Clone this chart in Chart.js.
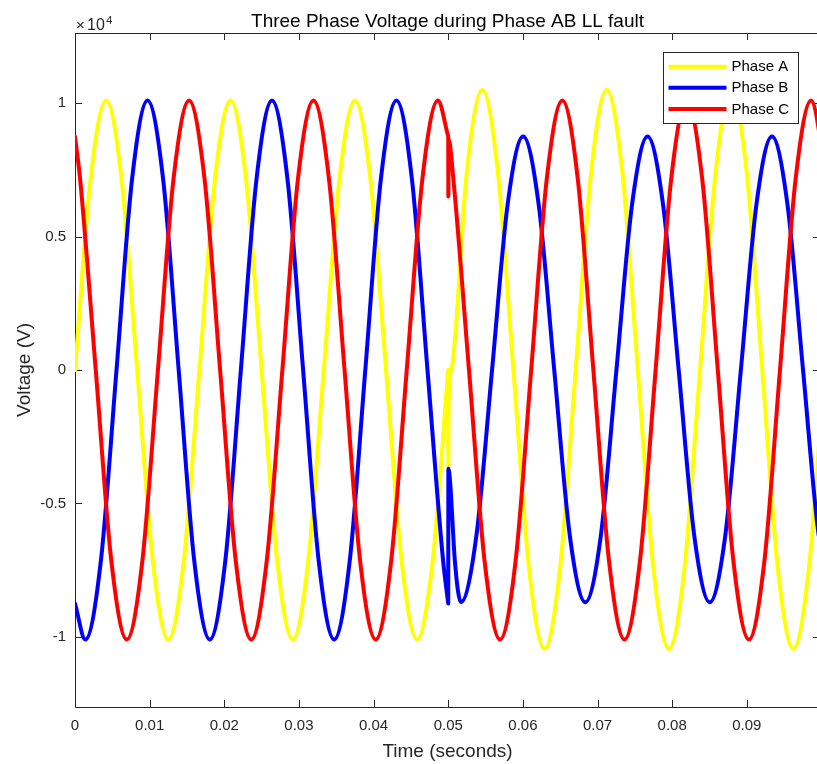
<!DOCTYPE html>
<html>
<head>
<meta charset="utf-8">
<title>Three Phase Voltage during Phase AB LL fault</title>
<script src="https://cdn.jsdelivr.net/npm/chart.js"></script>
<style>
  html, body { margin: 0; padding: 0; background: #ffffff; }
  canvas { display: block; }
</style>
</head>
<body>
<canvas id="voltage-chart" width="817" height="764"></canvas>
<script>
// ==========================================================================
// 1. DATA (volts vs seconds)
// ==========================================================================

const FAULT_TIME = 0.05;

// Phase A: before the fault / from the fault on (spike at t = 0.05)
const timeAPre = [0, 0.00208, 0.00417, 0.00625, 0.00833, 0.01042, 0.0125, 0.01458, 0.01667, 0.01875,
  0.02083, 0.02292, 0.025, 0.02708, 0.02917, 0.03125, 0.03333, 0.03542, 0.0375, 0.03958,
  0.04167, 0.04375, 0.04583, 0.04792, 0.05];
const voltAPre = [0, 7140, 10100, 7140, 0, -7140, -10100, -7140, 0, 7140,
  10100, 7140, 0, -7140, -10100, -7140, 0, 7140, 10100, 7140,
  0, -7140, -10100, -7140, 0];
const timeAPost = [0.05, 0.05002, 0.05004, 0.0504, 0.05248, 0.05457, 0.05665, 0.05873, 0.06082, 0.0629,
  0.06498, 0.06707, 0.06915, 0.07123, 0.07332, 0.0754, 0.07748, 0.07957, 0.08165, 0.08373,
  0.08582, 0.0879, 0.08998, 0.09207, 0.09415, 0.09623, 0.09832, 0.1004];
const voltAPost = [0, -3700, -1420, 0, 7420, 10500, 7420, 0, -7420, -10450,
  -7420, 0, 7420, 10500, 7420, 0, -7420, -10450, -7420, 0,
  7420, 10500, 7420, 0, -7420, -10450, -7420, 0];

// Phase B
const timeBPre = [0, 0.00139, 0.00347, 0.00556, 0.00764, 0.00972, 0.01181, 0.01389, 0.01597, 0.01806,
  0.02014, 0.02222, 0.02431, 0.02639, 0.02847, 0.03056, 0.03264, 0.03472, 0.03681, 0.03889,
  0.04097, 0.04306, 0.04514, 0.04722, 0.04931, 0.05];
const voltBPre = [-8750, -10100, -7140, 0, 7140, 10100, 7140, 0, -7140, -10100,
  -7140, 0, 7140, 10100, 7140, 0, -7140, -10100, -7140, 0,
  7140, 10100, 7140, 0, -7140, -8750];
const timeBPost = [0.05, 0.05002, 0.05025, 0.0509, 0.0517, 0.05378, 0.05587, 0.05795, 0.06003, 0.06212,
  0.0642, 0.06628, 0.06837, 0.07045, 0.07253, 0.07462, 0.0767, 0.07878, 0.08087, 0.08295,
  0.08503, 0.08712, 0.0892, 0.09128, 0.09337, 0.09545, 0.09753, 0.09962, 0.1017];
const voltBPost = [-8750, -3700, -4200, -7200, -8700, -6190, 0, 6190, 8750, 6190,
  0, -6190, -8700, -6190, 0, 6190, 8750, 6190, 0, -6190,
  -8700, -6190, 0, 6190, 8750, 6190, 0, -6190, -8700];

// Phase C
const timeCPre = [0, 0.00069, 0.00278, 0.00486, 0.00694, 0.00903, 0.01111, 0.01319, 0.01528, 0.01736,
  0.01944, 0.02153, 0.02361, 0.02569, 0.02778, 0.02986, 0.03194, 0.03403, 0.03611, 0.03819,
  0.04028, 0.04236, 0.04444, 0.04653, 0.04861, 0.05];
const voltCPre = [8750, 7140, 0, -7140, -10100, -7140, 0, 7140, 10100, 7140,
  0, -7140, -10100, -7140, 0, 7140, 10100, 7140, 0, -7140,
  -10100, -7140, 0, 7140, 10100, 8750];
const timeCPost = [0.05, 0.05002, 0.05004, 0.05069, 0.05278, 0.05486, 0.05694, 0.05903, 0.06111, 0.06319,
  0.06528, 0.06736, 0.06944, 0.07153, 0.07361, 0.07569, 0.07778, 0.07986, 0.08194, 0.08403,
  0.08611, 0.08819, 0.09028, 0.09236, 0.09444, 0.09653, 0.09861, 0.10069];
const voltCPost = [8750, 6500, 8670, 7140, 0, -7140, -10100, -7140, 0, 7140,
  10100, 7140, 0, -7140, -10100, -7140, 0, 7140, 10100, 7140,
  0, -7140, -10100, -7140, 0, 7140, 10100, 7140];

const seriesLabels = ['Phase A', 'Phase B', 'Phase C'];
const seriesColors = ['#FFFF00', '#0000FF', '#FF0000'];

const xTicks = [0, 0.01, 0.02, 0.03, 0.04, 0.05, 0.06, 0.07, 0.08, 0.09];
const xTickLabels = ['0', '0.01', '0.02', '0.03', '0.04', '0.05', '0.06', '0.07', '0.08', '0.09'];
const yTicks = [-10000, -5000, 0, 5000, 10000];
const yTickLabels = ['-1', '-0.5', '0', '0.5', '1'];

// ==========================================================================
// 2. HELPERS
// ==========================================================================

const AXIS_COLOR = '#262626';
const FONT = '"Liberation Sans", Arial, sans-serif';

function toPoints(times, volts) {
  return times.map((t, i) => ({ x: t, y: volts[i] }));
}

// the null point breaks the curve so the spike at the fault stays sharp
function phaseData(tPre, vPre, tPost, vPost) {
  return toPoints(tPre, vPre).concat([{ x: FAULT_TIME, y: null }], toPoints(tPost, vPost));
}

// MATLAB-like box, inward ticks, labels and legend
const matlabFrame = {
  id: 'matlabFrame',
  beforeDatasetsDraw(chart) {
    const { ctx, chartArea: a, scales: { x, y } } = chart;
    const right = a.right + 3; // box edge sits just past the crop
    ctx.save();
    ctx.strokeStyle = AXIS_COLOR;
    ctx.lineWidth = 1;
    ctx.beginPath();
    ctx.moveTo(right, a.top + 0.5);
    ctx.lineTo(a.left + 0.5, a.top + 0.5);
    ctx.lineTo(a.left + 0.5, a.bottom + 0.5);
    ctx.lineTo(right, a.bottom + 0.5);
    xTicks.forEach(v => {
      const px = Math.round(x.getPixelForValue(v)) + 0.5;
      ctx.moveTo(px, a.bottom); ctx.lineTo(px, a.bottom - 7);
      ctx.moveTo(px, a.top); ctx.lineTo(px, a.top + 7);
    });
    yTicks.forEach(v => {
      const py = Math.round(y.getPixelForValue(v)) + 0.5;
      ctx.moveTo(a.left, py); ctx.lineTo(a.left + 7, py);
      ctx.moveTo(right, py); ctx.lineTo(right - 7, py);
    });
    ctx.stroke();
    ctx.restore();
  },
  afterDatasetsDraw(chart) {
    const { ctx } = chart;
    ctx.save();
    ctx.fillStyle = '#ffffff';
    ctx.fillRect(663.5, 52.5, 135, 71);
    ctx.strokeStyle = AXIS_COLOR;
    ctx.lineWidth = 1;
    ctx.strokeRect(663.5, 52.5, 135, 71);
    chart.data.datasets.forEach((ds, i) => {
      const rowY = 66.7 + i * 21.1;
      ctx.strokeStyle = ds.borderColor;
      ctx.lineWidth = 4;
      ctx.beginPath();
      ctx.moveTo(668.5, rowY);
      ctx.lineTo(726.5, rowY);
      ctx.stroke();
      ctx.fillStyle = '#000000';
      ctx.font = '15px ' + FONT;
      ctx.textBaseline = 'middle';
      ctx.textAlign = 'left';
      ctx.fillText(ds.label, 731.5, rowY + 0.5);
    });
    ctx.restore();
  },
  afterDraw(chart) {
    const { ctx, chartArea: a } = chart;
    const centerX = (a.left + a.right + 3) / 2;
    ctx.save();
    ctx.fillStyle = '#000000';
    ctx.textAlign = 'center';
    ctx.textBaseline = 'alphabetic';
    ctx.font = '19px ' + FONT;
    ctx.fillText('Three Phase Voltage during Phase AB LL fault', centerX, 26.7);
    ctx.fillStyle = AXIS_COLOR;
    ctx.fillText('Time (seconds)', centerX, 756.7);

    // y label
    ctx.save();
    ctx.translate(25, (a.top + a.bottom) / 2);
    ctx.rotate(-Math.PI / 2);
    ctx.textBaseline = 'middle';
    ctx.fillText('Voltage (V)', 0, 0);
    ctx.restore();

    // exponent x10^4
    ctx.textAlign = 'left';
    ctx.font = '15px ' + FONT;
    ctx.fillText('\u00d7', 76, 29.5);
    ctx.font = '16px ' + FONT;
    ctx.fillText('10', 87, 29.5);
    ctx.font = '11px ' + FONT;
    ctx.fillText('4', 106.3, 23.5);
    ctx.restore();
  }
};

// ==========================================================================
// 3. CHART
// ==========================================================================

const phaseSeries = [
  phaseData(timeAPre, voltAPre, timeAPost, voltAPost),
  phaseData(timeBPre, voltBPre, timeBPost, voltBPost),
  phaseData(timeCPre, voltCPre, timeCPost, voltCPost)
];

new Chart(document.getElementById('voltage-chart'), {
  type: 'line',
  data: {
    datasets: phaseSeries.map((points, i) => ({
      label: seriesLabels[i],
      data: points,
      borderColor: seriesColors[i],
      backgroundColor: seriesColors[i],
      borderWidth: 4,
      borderCapStyle: 'round',
      borderJoinStyle: 'round',
      cubicInterpolationMode: 'monotone',
      pointRadius: 0,
      fill: false,
      spanGaps: false,
      clip: 0,
      order: 3 - i // Phase C ends up on top
    }))
  },
  options: {
    responsive: false,
    animation: false,
    devicePixelRatio: 1,
    layout: { padding: { top: 33, right: 0, bottom: 0, left: 0 } },
    plugins: {
      legend: { display: false },
      title: { display: false },
      tooltip: { enabled: false }
    },
    scales: {
      x: {
        type: 'linear',
        min: 0,
        max: 0.0994,
        grid: { display: false, drawTicks: false },
        border: { display: false },
        ticks: {
          padding: 10,
          autoSkip: false,
          maxRotation: 0,
          color: AXIS_COLOR,
          font: { family: FONT, size: 15 },
          callback: (value, index) => xTickLabels[index]
        },
        afterBuildTicks: scale => { scale.ticks = xTicks.map(v => ({ value: v })); },
        afterFit: scale => {
          scale.height = 57;
          scale.paddingLeft = 0;
          scale.paddingRight = 0;
        }
      },
      y: {
        type: 'linear',
        min: -12630,
        max: 12630,
        grid: { display: false, drawTicks: false },
        border: { display: false },
        ticks: {
          padding: 9,
          autoSkip: false,
          color: AXIS_COLOR,
          font: { family: FONT, size: 15 },
          callback: (value, index) => yTickLabels[index]
        },
        afterBuildTicks: scale => { scale.ticks = yTicks.map(v => ({ value: v })); },
        afterFit: scale => {
          scale.width = 75;
          scale.paddingTop = 0;
          scale.paddingBottom = 0;
        }
      }
    }
  },
  plugins: [matlabFrame]
});
</script>
</body>
</html>
